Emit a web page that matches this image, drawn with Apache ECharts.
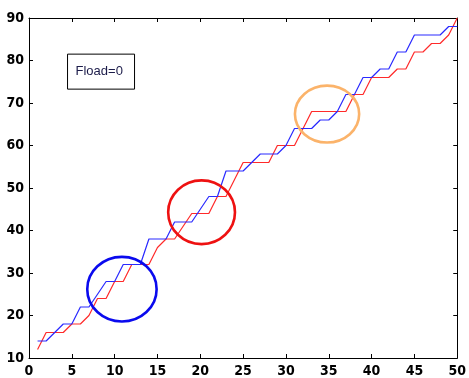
<!DOCTYPE html>
<html>
<head>
<meta charset="utf-8">
<script src="https://cdn.jsdelivr.net/npm/echarts@6/dist/echarts.min.js"></script>
<style>
  html, body { margin: 0; padding: 0; background: #fff; }
  #chart { width: 469px; height: 378px; }
</style>
</head>
<body>
<div id="chart"></div>
<script>
// sample index (x axis)
var xValues = [];
for (var i = 1; i <= 50; i++) xValues.push(i);

// blue trace
var blueValues = [14, 14, 16, 18, 18, 22, 22, 25, 28, 28,
                  32, 32, 32, 38, 38, 38, 42, 42, 42, 45,
                  48, 48, 54, 54, 54, 56, 58, 58, 58, 60,
                  64, 64, 64, 66, 66, 68, 72, 72, 76, 76,
                  78, 78, 82, 82, 86, 86, 86, 86, 88, 88];

// red trace
var redValues = [12, 16, 16, 16, 18, 18, 20, 24, 24, 28,
                 28, 32, 32, 32, 36, 38, 38, 41, 44, 44,
                 44, 48, 48, 52, 56, 56, 56, 56, 60, 60,
                 60, 64, 68, 68, 68, 68, 68, 72, 72, 76,
                 76, 76, 78, 78, 82, 82, 84, 84, 86, 90];

var xTicks = [0, 5, 10, 15, 20, 25, 30, 35, 40, 45, 50];
var yTicks = [10, 20, 30, 40, 50, 60, 70, 80, 90];

// highlighted regions: centre x, centre y, half-width, half-height (data units)
var circleCx = [10.85, 20.15, 34.8];
var circleCy = [26.2, 44.3, 67.4];
var circleRx = [4.05, 3.9, 3.75];
var circleRy = [7.6, 7.5, 6.7];
var circleColors = ["#0a0aee", "#ee1111", "#fbb36a"];

var labelText = "Fload=0";

function pairs(ys) {
  return xValues.map(function(x, i) { return [x, ys[i]]; });
}

var chart = echarts.init(document.getElementById("chart"));

var axisFont = {
  color: "#000",
  fontFamily: "'Liberation Sans Narrow', 'Arial Narrow', 'DejaVu Sans Condensed', sans-serif",
  fontWeight: "bold",
  fontSize: 14
};

function xAxisDef(pos, showLabel) {
  return {
    type: "value",
    position: pos,
    min: xTicks[0],
    max: xTicks[xTicks.length - 1],
    interval: 5,
    axisLine: { show: true, onZero: false, lineStyle: { color: "#000", width: 1 } },
    axisTick: { show: true, inside: true, length: 4, lineStyle: { color: "#000" } },
    axisLabel: Object.assign({ show: showLabel, margin: 6 }, axisFont),
    splitLine: { show: false }
  };
}

function yAxisDef(pos, showLabel) {
  return {
    type: "value",
    position: pos,
    min: yTicks[0],
    max: yTicks[yTicks.length - 1],
    interval: 10,
    axisLine: { show: true, onZero: false, lineStyle: { color: "#000", width: 1 } },
    axisTick: { show: true, inside: true, length: 4, lineStyle: { color: "#000" } },
    axisLabel: Object.assign({ show: showLabel, margin: 5 }, axisFont),
    splitLine: { show: false }
  };
}

var option = {
  animation: false,
  backgroundColor: "#fff",
  grid: { left: 29, right: 7, top: 18, bottom: 17, containLabel: false },
  xAxis: [xAxisDef("bottom", true), xAxisDef("top", false)],
  yAxis: [yAxisDef("left", true), yAxisDef("right", false)],
  series: [
    {
      name: "blue",
      type: "line",
      data: pairs(blueValues),
      showSymbol: false,
      lineStyle: { color: "#2a2aff", width: 1.2 },
      z: 3
    },
    {
      name: "red",
      type: "line",
      data: pairs(redValues),
      showSymbol: false,
      lineStyle: { color: "#ff2a2a", width: 1.2 },
      z: 2
    }
  ]
};
chart.setOption(option);

// annotations: ellipses placed through the grid's own scale
var graphics = circleCx.map(function(cx, i) {
  var c = chart.convertToPixel({ gridIndex: 0 }, [cx, circleCy[i]]);
  var e = chart.convertToPixel({ gridIndex: 0 }, [cx + circleRx[i], circleCy[i] + circleRy[i]]);
  return {
    type: "ellipse",
    shape: { cx: c[0], cy: c[1], rx: Math.abs(e[0] - c[0]), ry: Math.abs(c[1] - e[1]) },
    style: { fill: null, stroke: circleColors[i], lineWidth: 2.6 },
    z: 10
  };
});

var boxPos = chart.convertToPixel({ gridIndex: 0 }, [4.5, 81.5]);
graphics.push({
  type: "group",
  x: boxPos[0],
  y: boxPos[1],
  children: [
    {
      type: "rect",
      shape: { x: 0, y: 0, width: 67, height: 35 },
      style: { fill: "#fff", stroke: "#000", lineWidth: 1 }
    },
    {
      type: "text",
      x: 8,
      y: 17.5,
      style: {
        text: labelText,
        fill: "#1c1c4a",
        font: "13px 'Liberation Sans', Arial, sans-serif",
        verticalAlign: "middle"
      }
    }
  ],
  z: 11
});

chart.setOption({ graphic: graphics });
</script>
</body>
</html>
